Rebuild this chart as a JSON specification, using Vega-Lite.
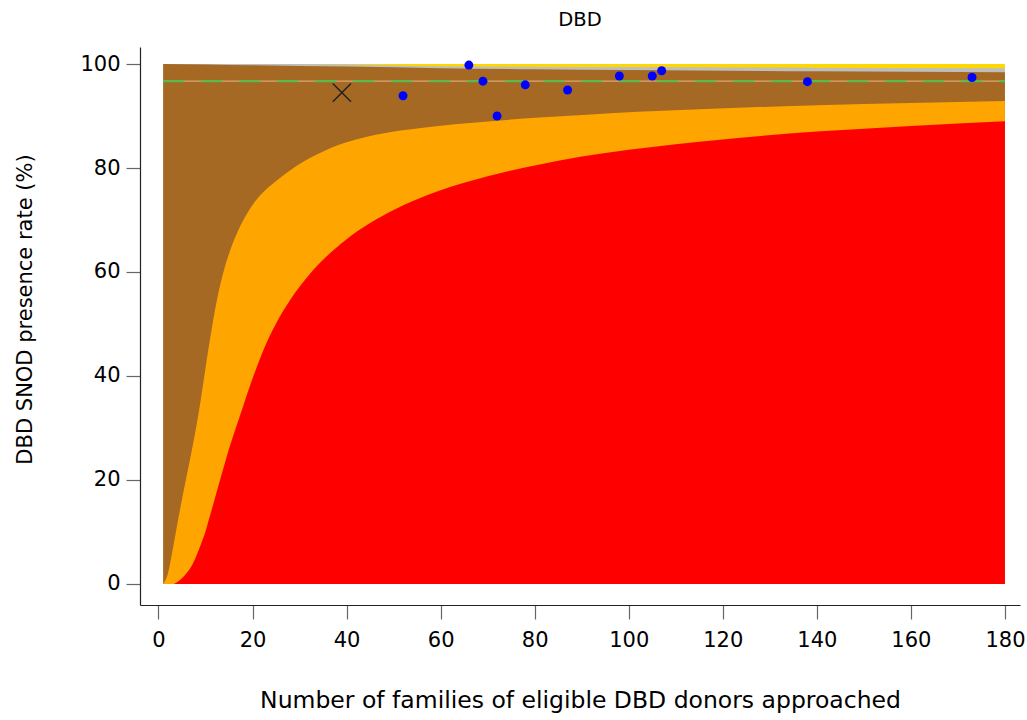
{
  "$schema": "https://vega.github.io/schema/vega-lite/v6.json",
  "width": 880,
  "height": 558,
  "autosize": {"type": "none"},
  "padding": {"left": 140, "top": 47, "right": 7, "bottom": 115},
  "background": "white",
  "title": {"text": "DBD", "anchor": "middle", "fontSize": 19.5, "font": "DejaVu Sans", "fontWeight": "normal", "color": "black", "offset": 17},
  "config": {
    "view": {"stroke": null},
    "axis": {"grid": false, "labelFont": "DejaVu Sans", "titleFont": "DejaVu Sans", "labelFontSize": 21, "titleFontSize": 23.5, "titleFontWeight": "normal", "labelColor": "black", "titleColor": "black", "domainColor": "#222", "tickColor": "#666", "tickSize": 14, "domainWidth": 1.2, "tickWidth": 1.2}
  },
  "datasets": {
    "red": [
      {"n": 1, "v": 0}, {"n": 3, "v": 0}, {"n": 4, "v": 0.4}, {"n": 5, "v": 1.1}, {"n": 6, "v": 2.1}, {"n": 7, "v": 3.4}, {"n": 8, "v": 5.3}, {"n": 9, "v": 7.6}, {"n": 10, "v": 10.1}, {"n": 11, "v": 13.3}, {"n": 12, "v": 16.5}, {"n": 13, "v": 19.7}, {"n": 14, "v": 22.9}, {"n": 15, "v": 26}, {"n": 16, "v": 28.8}, {"n": 18, "v": 34.2}, {"n": 20, "v": 39.5}, {"n": 22, "v": 44.3}, {"n": 25, "v": 50.1}, {"n": 28, "v": 54.6}, {"n": 32, "v": 59.4}, {"n": 36, "v": 63.2}, {"n": 40, "v": 66.3}, {"n": 45, "v": 69.4}, {"n": 50, "v": 71.9}, {"n": 60, "v": 75.7}, {"n": 70, "v": 78.4}, {"n": 80, "v": 80.5}, {"n": 90, "v": 82.2}, {"n": 100, "v": 83.5}, {"n": 120, "v": 85.5}, {"n": 140, "v": 87.0}, {"n": 160, "v": 88.1}, {"n": 180, "v": 89.0}
    ],
    "orange": [
      {"n": 1, "v": 0}, {"n": 2, "v": 2}, {"n": 3, "v": 6.5}, {"n": 4, "v": 11.5}, {"n": 5, "v": 16.3}, {"n": 6, "v": 20.8}, {"n": 7, "v": 25.3}, {"n": 8, "v": 30.1}, {"n": 9, "v": 35.5}, {"n": 10, "v": 41.5}, {"n": 11, "v": 47.3}, {"n": 12, "v": 52.6}, {"n": 13, "v": 57.0}, {"n": 14, "v": 60.6}, {"n": 15, "v": 63.5}, {"n": 16, "v": 66.0}, {"n": 17, "v": 68.1}, {"n": 18, "v": 69.9}, {"n": 19, "v": 71.5}, {"n": 20, "v": 72.9}, {"n": 21, "v": 74.1}, {"n": 22, "v": 75.1}, {"n": 25, "v": 77.5}, {"n": 29, "v": 80.2}, {"n": 33, "v": 82.3}, {"n": 37, "v": 84.0}, {"n": 42, "v": 85.5}, {"n": 48, "v": 86.7}, {"n": 55, "v": 87.6}, {"n": 63, "v": 88.4}, {"n": 72, "v": 89.1}, {"n": 81, "v": 89.7}, {"n": 92, "v": 90.3}, {"n": 102, "v": 90.8}, {"n": 115, "v": 91.3}, {"n": 130, "v": 91.8}, {"n": 150, "v": 92.3}, {"n": 165, "v": 92.6}, {"n": 180, "v": 92.9}
    ],
    "brown": [
      {"n": 1, "v": 100}, {"n": 10, "v": 99.9}, {"n": 20, "v": 99.75}, {"n": 40, "v": 99.5}, {"n": 60, "v": 99.2}, {"n": 80, "v": 99.0}, {"n": 100, "v": 98.85}, {"n": 140, "v": 98.6}, {"n": 180, "v": 98.4}
    ],
    "grey": [
      {"n": 1, "v": 100}, {"n": 30, "v": 100}, {"n": 40, "v": 99.9}, {"n": 60, "v": 99.55}, {"n": 100, "v": 99.4}, {"n": 140, "v": 99.3}, {"n": 180, "v": 99.2}
    ],
    "yellow": [
      {"n": 1, "v": 100}, {"n": 180, "v": 100}
    ],
    "mean": [
      {"n": 1, "v": 96.7}, {"n": 180, "v": 96.7}
    ],
    "units": [
      {"n": 52, "rate": 93.9}, {"n": 66, "rate": 99.8}, {"n": 69, "rate": 96.7}, {"n": 72, "rate": 90.0}, {"n": 78, "rate": 96.0}, {"n": 87, "rate": 95.0}, {"n": 98, "rate": 97.7}, {"n": 105, "rate": 97.7}, {"n": 107, "rate": 98.7}, {"n": 138, "rate": 96.6}, {"n": 173, "rate": 97.4}
    ],
    "national": [
      {"n": 39, "rate": 94.5}
    ]
  },
  "encoding": {
    "x": {"field": "n", "type": "quantitative", "scale": {"domain": [-3.93, 183.2], "nice": false, "zero": false},
      "axis": {"values": [0, 20, 40, 60, 80, 100, 120, 140, 160, 180], "title": "Number of families of eligible DBD donors approached", "labelPadding": 10, "titlePadding": 38}}
  },
  "layer": [
    {"data": {"name": "yellow"}, "mark": {"type": "area", "color": "#FFD700"},
      "encoding": {"y": {"field": "v", "type": "quantitative", "scale": {"domain": [-4.04, 103.27], "nice": false, "zero": false},
        "axis": {"values": [0, 20, 40, 60, 80, 100], "title": "DBD SNOD presence rate (%)", "titleFontSize": 21, "titleY": 262, "labelPadding": 6, "titlePadding": 44}}, "y2": {"datum": 0}}},
    {"data": {"name": "grey"}, "mark": {"type": "area", "color": "#BEBEBE", "interpolate": "monotone"},
      "encoding": {"y": {"field": "v", "type": "quantitative"}, "y2": {"datum": 0}}},
    {"data": {"name": "brown"}, "mark": {"type": "area", "color": "#A66923", "interpolate": "monotone"},
      "encoding": {"y": {"field": "v", "type": "quantitative"}, "y2": {"datum": 0}}},
    {"data": {"name": "orange"}, "mark": {"type": "area", "color": "#FFA500", "interpolate": "monotone"},
      "encoding": {"y": {"field": "v", "type": "quantitative"}, "y2": {"datum": 0}}},
    {"data": {"name": "red"}, "mark": {"type": "area", "color": "#FF0000", "interpolate": "monotone"},
      "encoding": {"y": {"field": "v", "type": "quantitative"}, "y2": {"datum": 0}}},
    {"data": {"name": "mean"}, "mark": {"type": "line", "color": "#D9A878", "strokeWidth": 1.2},
      "encoding": {"y": {"field": "v", "type": "quantitative"}}},
    {"data": {"name": "mean"}, "mark": {"type": "line", "color": "#4CC04C", "strokeWidth": 2, "strokeDash": [21, 17]},
      "encoding": {"y": {"field": "v", "type": "quantitative"}}},
    {"data": {"name": "units"}, "mark": {"type": "point", "shape": "circle", "filled": true, "color": "#0000FF", "opacity": 1, "size": 80},
      "encoding": {"y": {"field": "rate", "type": "quantitative"}}},
    {"data": {"name": "national"}, "mark": {"type": "point", "shape": "M-1,-1L1,1M-1,1L1,-1", "filled": false, "color": "#222222", "strokeWidth": 1.5, "opacity": 1, "size": 330},
      "encoding": {"y": {"field": "rate", "type": "quantitative"}}}
  ]
}
